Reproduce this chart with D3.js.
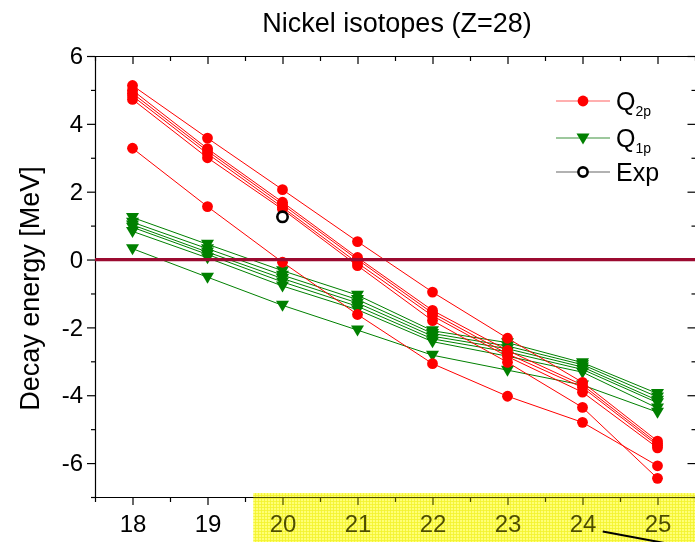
<!DOCTYPE html>
<html>
<head>
<meta charset="utf-8">
<script src="https://cdn.jsdelivr.net/npm/d3@7"></script>
<style>
  body { margin: 0; background: #fff; }
  svg { display: block; }
  text { font-family: "Liberation Sans", Arial, sans-serif; fill: #000; }
</style>
</head>
<body>
<svg id="chart" width="695" height="542"></svg>
<script>
// Isotope index shown on the x axis
const isotopeX = [18, 19, 20, 21, 22, 23, 24, 25];

// Two-proton decay energies Q_2p [MeV], one array per mass model
const q2pModelA = [5.13, 3.58, 2.06, 0.53, -0.96, -2.32, -3.62, -5.35];
const q2pModelB = [4.99, 3.27, 1.69, 0.06, -1.50, -2.68, -3.70, -5.42];
const q2pModelC = [4.90, 3.20, 1.62, 0.00, -1.58, -2.78, -3.77, -5.48];
const q2pModelD = [4.82, 3.12, 1.54, -0.10, -1.66, -2.86, -3.91, -5.55];
const q2pModelE = [4.72, 3.00, 1.48, -0.18, -1.80, -3.03, -4.36, -6.45];
const q2pModelF = [3.28, 1.56, -0.08, -1.62, -3.07, -4.03, -4.80, -6.08];

// One-proton decay energies Q_1p [MeV]
const q1pModelA = [1.24, 0.45, -0.33, -1.05, -2.10, -2.45, -3.04, -3.95];
const q1pModelB = [1.10, 0.32, -0.46, -1.18, -2.18, -2.55, -3.10, -4.05];
const q1pModelC = [1.02, 0.22, -0.56, -1.28, -2.26, -2.63, -3.17, -4.15];
const q1pModelD = [0.95, 0.15, -0.66, -1.38, -2.34, -2.72, -3.24, -4.22];
const q1pModelE = [0.83, 0.05, -0.78, -1.48, -2.42, -2.85, -3.32, -4.38];
const q1pModelF = [0.32, -0.52, -1.35, -2.08, -2.82, -3.26, -3.70, -4.50];

// Measured value
const expX = [20];
const expQ = [1.26];

// Axis ticks
const xMajorTicks = [18, 19, 20, 21, 22, 23, 24, 25];
const xMinorTicks = [17.5, 18.5, 19.5, 20.5, 21.5, 22.5, 23.5, 24.5, 25.5];
const yMajorTicks = [-6, -4, -2, 0, 2, 4, 6];
const yMinorTicks = [-7, -5, -3, -1, 1, 3, 5];

const titleText = "Nickel isotopes (Z=28)";
const yTitle = "Decay energy [MeV]";

const q2pAll = [q2pModelA, q2pModelB, q2pModelC, q2pModelD, q2pModelE, q2pModelF];
const q1pAll = [q1pModelA, q1pModelB, q1pModelC, q1pModelD, q1pModelE, q1pModelF];

const RED = "#ff0000", GREEN = "#008000", ZERO = "#9b0a30";
const plainNumber = d => String(d);   // ASCII hyphen for negatives

const svg = d3.select("#chart");
const plot = { left: 95, right: 695, top: 56, bottom: 497 };

const x = d3.scaleLinear().domain([17.5, 25.5]).range([plot.left, plot.right]);
const y = d3.scaleLinear().domain([-7, 6]).range([plot.bottom, plot.top]);

// ---- axes ----
function styleAxis(g) {
  g.selectAll("path.domain").attr("stroke", "#000").attr("stroke-width", 1.2);
  g.selectAll(".tick line").attr("stroke", "#000").attr("stroke-width", 1.2);
}

// bottom (labelled, ticks outward)
const gB = svg.append("g").attr("transform", `translate(0,${plot.bottom})`)
  .call(d3.axisBottom(x).tickValues(xMajorTicks).tickSize(8).tickSizeOuter(0).tickPadding(10).tickFormat(plainNumber));
gB.selectAll("text").attr("font-size", 24).attr("dy", "0.71em");
svg.append("g").attr("transform", `translate(0,${plot.bottom})`)
  .call(d3.axisBottom(x).tickValues(xMinorTicks).tickSize(5).tickSizeOuter(0).tickFormat(""))
  .call(g => g.select(".domain").remove()).call(styleAxis);
styleAxis(gB);

// top (ticks inward)
svg.append("g").attr("transform", `translate(0,${plot.top})`)
  .call(d3.axisTop(x).tickValues(xMajorTicks).tickSize(-8).tickSizeOuter(0).tickFormat(""))
  .call(styleAxis);
svg.append("g").attr("transform", `translate(0,${plot.top})`)
  .call(d3.axisTop(x).tickValues(xMinorTicks).tickSize(-5).tickSizeOuter(0).tickFormat(""))
  .call(g => g.select(".domain").remove()).call(styleAxis);

// left (labelled, ticks outward)
const gL = svg.append("g").attr("transform", `translate(${plot.left},0)`)
  .call(d3.axisLeft(y).tickValues(yMajorTicks).tickSize(8).tickSizeOuter(0).tickPadding(4).tickFormat(plainNumber));
gL.selectAll("text").attr("font-size", 24);
styleAxis(gL);
svg.append("g").attr("transform", `translate(${plot.left},0)`)
  .call(d3.axisLeft(y).tickValues(yMinorTicks).tickSize(4).tickSizeOuter(0).tickFormat(""))
  .call(g => g.select(".domain").remove()).call(styleAxis);

// right (ticks inward)
svg.append("g").attr("transform", `translate(${plot.right + 0.5},0)`)
  .call(d3.axisRight(y).tickValues(yMajorTicks).tickSize(-8).tickSizeOuter(0).tickFormat(""))
  .call(styleAxis);
svg.append("g").attr("transform", `translate(${plot.right + 0.5},0)`)
  .call(d3.axisRight(y).tickValues(yMinorTicks).tickSize(-4).tickSizeOuter(0).tickFormat(""))
  .call(g => g.select(".domain").remove()).call(styleAxis);

// ---- titles ----
svg.append("text").attr("x", 397).attr("y", 32).attr("text-anchor", "middle")
  .attr("font-size", 27).text(titleText);
svg.append("text").attr("transform", `translate(39,${(plot.top + plot.bottom) / 2 + 12}) rotate(-90)`)
  .attr("text-anchor", "middle").attr("font-size", 27).text(yTitle);

// ---- series ----
const line = d3.line().x((d, i) => x(isotopeX[i])).y(d => y(d));
const triDown = "M-6.5,-4.5L6.5,-4.5L0,6.5Z";

const gGreen = svg.append("g");
gGreen.selectAll("path.l").data(q1pAll).join("path").attr("class", "l")
  .attr("d", line).attr("fill", "none").attr("stroke", GREEN).attr("stroke-width", 1);
q1pAll.forEach(s => {
  gGreen.append("g").selectAll("path").data(s).join("path")
    .attr("transform", (d, i) => `translate(${x(isotopeX[i])},${y(d)})`)
    .attr("d", triDown).attr("fill", GREEN);
});

const gRed = svg.append("g");
gRed.selectAll("path.l").data(q2pAll).join("path").attr("class", "l")
  .attr("d", line).attr("fill", "none").attr("stroke", RED).attr("stroke-width", 1);
q2pAll.forEach(s => {
  gRed.append("g").selectAll("circle").data(s).join("circle")
    .attr("cx", (d, i) => x(isotopeX[i])).attr("cy", d => y(d)).attr("r", 5.4).attr("fill", RED);
});

svg.append("g").selectAll("circle").data(expQ).join("circle")
  .attr("cx", (d, i) => x(expX[i])).attr("cy", d => y(d)).attr("r", 5.2)
  .attr("fill", "#fff").attr("stroke", "#000").attr("stroke-width", 2.6);

// zero reference line
svg.append("line").attr("x1", plot.left).attr("x2", plot.right)
  .attr("y1", y(0)).attr("y2", y(0)).attr("stroke", ZERO).attr("stroke-width", 3.2);

// ---- legend ----
const legend = svg.append("g").attr("transform", "translate(556,0)");
const legendRows = [
  { yy: 101, color: "#ff6060", kind: "circle", main: "Q", sub: "2p" },
  { yy: 138, color: "#3c913c", kind: "tri", main: "Q", sub: "1p" },
  { yy: 172, color: "#666", kind: "open", main: "Exp", sub: "" }
];
legendRows.forEach(r => {
  legend.append("line").attr("x1", 0).attr("x2", 54).attr("y1", r.yy).attr("y2", r.yy)
    .attr("stroke", r.color).attr("stroke-width", 1.2);
  if (r.kind === "circle") legend.append("circle").attr("cx", 27).attr("cy", r.yy).attr("r", 5.4).attr("fill", RED);
  if (r.kind === "tri") legend.append("path").attr("transform", `translate(27,${r.yy})`).attr("d", triDown).attr("fill", GREEN);
  if (r.kind === "open") legend.append("circle").attr("cx", 27).attr("cy", r.yy).attr("r", 4.6)
    .attr("fill", "#fff").attr("stroke", "#000").attr("stroke-width", 2.6);
  const t = legend.append("text").attr("x", 60).attr("y", r.yy + 9).attr("font-size", 25).text(r.main);
  if (r.sub) t.append("tspan").attr("dy", 6).attr("font-size", 14).text(r.sub);
});

// ---- highlighted strip under the axis and pen stroke ----
const defs = svg.append("defs");
const pat = defs.append("pattern").attr("id", "mesh").attr("width", 3).attr("height", 3)
  .attr("patternUnits", "userSpaceOnUse");
pat.append("rect").attr("width", 3).attr("height", 3).attr("fill", "#ffffa8");
pat.append("path").attr("d", "M0,0.5H3M0.5,0V3").attr("stroke", "#eeee40").attr("stroke-width", 0.8);

const hx0 = x(19.61), hy0 = plot.bottom - 4;
svg.append("rect").attr("x", hx0).attr("y", hy0).attr("width", 695 - hx0).attr("height", 542 - hy0)
  .attr("fill", "url(#mesh)").style("mix-blend-mode", "multiply");
svg.append("rect").attr("x", hx0).attr("y", hy0).attr("width", 695 - hx0).attr("height", 542 - hy0)
  .attr("fill", "rgba(255,255,0,0.3)");

svg.append("line").attr("x1", x(24.27)).attr("y1", y(-8.02)).attr("x2", x(25.2)).attr("y2", y(-8.4))
  .attr("stroke", "#000").attr("stroke-width", 2);
</script>
</body>
</html>
